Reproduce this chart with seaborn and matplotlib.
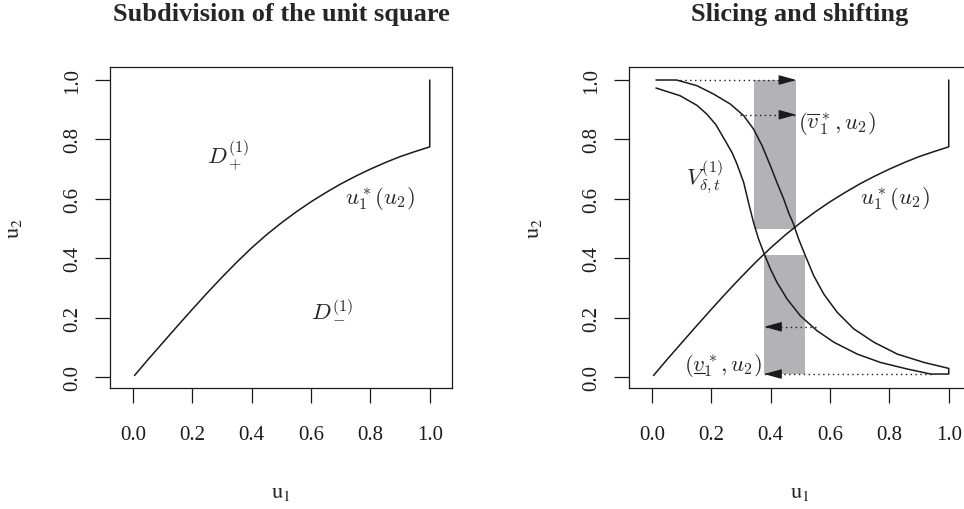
import numpy as np
import pandas as pd
import seaborn as sns
import matplotlib
matplotlib.use("Agg")
import matplotlib.pyplot as plt

# boundary curve u1*(u2)
ustar_x = [0.005, 0.05, 0.1, 0.15, 0.2, 0.25, 0.3, 0.35, 0.4, 0.45, 0.5, 0.55, 0.6,
           0.65, 0.7, 0.75, 0.8, 0.85, 0.9, 0.95, 1.0, 1.0]
ustar_y = [0.005, 0.058, 0.115, 0.172, 0.228, 0.283, 0.336, 0.387, 0.435, 0.479, 0.519,
           0.556, 0.59, 0.621, 0.65, 0.676, 0.70, 0.722, 0.742, 0.759, 0.775, 1.0]

# band V: inner (left/lower) and outer (right/upper) S-curves
inner_x = [0.0135, 0.095, 0.151, 0.185, 0.215, 0.25, 0.27, 0.286, 0.309, 0.325, 0.342,
           0.359, 0.376, 0.399, 0.421, 0.455, 0.50, 0.556, 0.613, 0.692, 0.77, 0.86, 0.939]
inner_y = [0.973, 0.947, 0.915, 0.885, 0.85, 0.79, 0.755, 0.718, 0.655, 0.588, 0.521,
           0.465, 0.42, 0.364, 0.319, 0.263, 0.206, 0.156, 0.117, 0.077, 0.049, 0.027, 0.01]
outer_x = [0.083, 0.151, 0.207, 0.264, 0.309, 0.342, 0.371, 0.399, 0.421, 0.444, 0.46,
           0.477, 0.494, 0.517, 0.545, 0.579, 0.624, 0.68, 0.748, 0.827, 0.917, 1.0]
outer_y = [1.0, 0.981, 0.953, 0.919, 0.88, 0.835, 0.779, 0.711, 0.655, 0.599, 0.554,
           0.515, 0.465, 0.408, 0.341, 0.279, 0.218, 0.162, 0.117, 0.077, 0.049, 0.029]

# shaded slices: (x0, x1, y0, y1)
slices = [(0.345, 0.486, 0.50, 1.0), (0.376, 0.514, 0.01, 0.41)]

# shifting arrows: (x_from, x_to, y)
arrows = [(0.095, 0.486, 1.0), (0.297, 0.486, 0.883),
          (0.553, 0.378, 0.169), (0.94, 0.378, 0.01)]

ticks = [0.0, 0.2, 0.4, 0.6, 0.8, 1.0]
tick_labels = ["0.0", "0.2", "0.4", "0.6", "0.8", "1.0"]
titles = ["Subdivision of the unit square", "Slicing and shifting"]

sns.set_theme(style="ticks")
plt.rcParams["font.family"] = ["Liberation Serif", "DejaVu Serif"]
plt.rcParams["mathtext.fontset"] = "cm"

fig = plt.figure(figsize=(9.64, 5.10), dpi=100)
ax1 = fig.add_axes([110 / 964, 121 / 510, 342 / 964, 321 / 510])
ax2 = fig.add_axes([629 / 964, 121 / 510, 342 / 964, 321 / 510])

mfs = 16.5

for ax, title in zip([ax1, ax2], titles):
    ax.set_xlim(-0.0775, 1.075)
    ax.set_ylim(-0.037, 1.0438)
    ax.set_xticks(ticks)
    ax.set_xticklabels(tick_labels, fontsize=15)
    ax.set_yticks(ticks)
    ax.set_yticklabels(tick_labels, fontsize=15, rotation=90, va="center", ha="right")
    ax.tick_params(axis="both", direction="out", length=10.8, width=0.9, colors="k")
    ax.tick_params(axis="x", pad=16)
    ax.tick_params(axis="y", pad=9)
    for sp in ax.spines.values():
        sp.set_linewidth(0.9)
        sp.set_color("k")
    ax.set_xlabel(r"$\mathrm{u}_1$", fontsize=16, math_fontfamily="stix")
    ax.set_ylabel(r"$\mathrm{u}_2$", fontsize=16, math_fontfamily="stix")
    ax.xaxis.set_label_coords(0.5, -0.295)
    ax.yaxis.set_label_coords(-0.25, 0.5)
    ax.text(0.5, 1.146, title, transform=ax.transAxes, ha="center", va="baseline",
            fontsize=19, fontweight="bold")
    ax.grid(False)
    ax.set_facecolor("white")

# left panel
ustar = pd.DataFrame({"x": ustar_x, "y": ustar_y})
sns.lineplot(data=ustar, x="x", y="y", sort=False, estimator=None, color="k", lw=1.1, ax=ax1)
ax1.text(0.32, 0.747, r"$D_+^{(1)}$", fontsize=mfs, ha="center", va="center")
ax1.text(0.67, 0.229, r"$D_-^{(1)}$", fontsize=mfs, ha="center", va="center")
ax1.text(0.832, 0.606, r"$u_1^*(u_2)$", fontsize=mfs, ha="center", va="center")

# right panel
for x0, x1, y0, y1 in slices:
    ax2.fill_between([x0, x1], [y0, y0], [y1, y1], color="#b3b3b7", lw=0, zorder=1)

band_x = [inner_x[0]] + outer_x + [1.0] + inner_x[::-1]
band_y = [1.0] + outer_y + [0.01] + inner_y[::-1]
band = pd.DataFrame({"x": band_x, "y": band_y})
sns.lineplot(data=band, x="x", y="y", sort=False, estimator=None, color="k", lw=1.1, ax=ax2)
sns.lineplot(data=ustar, x="x", y="y", sort=False, estimator=None, color="k", lw=1.1, ax=ax2)

for xf, xt, y in arrows:
    ax2.plot([xf, xt], [y, y], color="k", lw=1.0, ls=(0, (1, 2.5)), zorder=3)
    d = 0.03 if xt > xf else -0.03
    ax2.annotate("", xy=(xt, y), xytext=(xt - d, y),
                 arrowprops=dict(arrowstyle="-|>,head_length=0.9,head_width=0.25",
                                 color="k", lw=0.8, shrinkA=0, shrinkB=0), zorder=4)

ax2.text(0.176, 0.675, r"$V_{\delta,t}^{(1)}$", fontsize=mfs, ha="center", va="center")
ax2.text(0.818, 0.606, r"$u_1^*(u_2)$", fontsize=mfs, ha="center", va="center")
ax2.text(0.493, 0.857, r"$(\overline{v}_1^*, u_2)$", fontsize=mfs, ha="left", va="center")

# lower label: mathtext has no \underline, so draw the bar under v by measuring
low_t = ax2.text(0.372, 0.022, r"$(v_1^*, u_2)$", fontsize=mfs, ha="right", va="baseline")
fig.canvas.draw()
rend = fig.canvas.get_renderer()
bb = low_t.get_window_extent(rend)
def _w(s):
    t = fig.text(0, 0, s, fontsize=mfs)
    w = t.get_window_extent(rend).width
    t.remove()
    return w
w0 = _w(r"$($")
w1 = _w(r"$(v$")
base = ax2.transData.transform((0.372, 0.022))[1]
inv = ax2.transData.inverted()
p0 = inv.transform((bb.x0 + w0 + 0.5, base - 3))
p1 = inv.transform((bb.x0 + w1 - 0.5, base - 3))
ax2.plot([p0[0], p1[0]], [p0[1], p1[1]], color="k", lw=0.8)

fig.savefig("out.png", dpi=100)
